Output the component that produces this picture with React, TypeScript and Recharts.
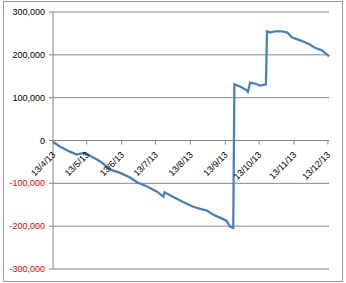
import { LineChart, Line, XAxis, YAxis, CartesianGrid } from 'recharts';

// cumulative balance
const dates = [
  '2013-04-13', '2013-04-19', '2013-04-28', '2013-05-04', '2013-05-10', '2013-05-14',
  '2013-05-25', '2013-06-03', '2013-06-11', '2013-06-20', '2013-06-27',
  '2013-07-05', '2013-07-14', '2013-07-20', '2013-07-21', '2013-07-28',
  '2013-08-06', '2013-08-15', '2013-08-21', '2013-08-28',
  '2013-09-02', '2013-09-08', '2013-09-14', '2013-09-17', '2013-09-20',
  '2013-09-21', '2013-09-26', '2013-10-02', '2013-10-03', '2013-10-05',
  '2013-10-09', '2013-10-14', '2013-10-19',
  '2013-10-20', '2013-10-23', '2013-10-27', '2013-11-02', '2013-11-07',
  '2013-11-11', '2013-11-16', '2013-11-21', '2013-11-27', '2013-12-01',
  '2013-12-08', '2013-12-13', '2013-12-14',
];

const balance = [
  -3000, -14000, -26000, -33000, -29000, -33000,
  -49000, -68000, -75000, -86000, -98000,
  -107000, -119000, -131000, -121000, -131000,
  -143000, -154000, -159000, -164000,
  -173000, -180000, -187000, -201000, -204000,
  131000, 126000, 117000, 114000, 135000,
  133000, 128000, 131000,
  255000, 252000, 255000, 255000, 252000,
  241000, 236000, 231000, 224000, 217000,
  210000, 199000, 196000,
];

const monthTicks = [
  '2013-04-13', '2013-05-13', '2013-06-13', '2013-07-13', '2013-08-13',
  '2013-09-13', '2013-10-13', '2013-11-13', '2013-12-13',
];

const yTicks = [-300000, -200000, -100000, 0, 100000, 200000, 300000];

const toTime = (s: string) => {
  const [y, m, d] = s.split('-').map(Number);
  return Date.UTC(y, m - 1, d);
};

const data = dates.map((d, i) => ({ t: toTime(d), value: balance[i] }));

const FONT = "'Liberation Sans', Arial, sans-serif";
const GRID = '#868686';
const TOP = 12;
const BOTTOM = 14;
const H = 283;
const plotH = H - TOP - BOTTOM;
// the date axis sits on the zero line, half way down the plot
const zeroShift = plotH / 2;

const fmtDate = (t: number) => {
  const d = new Date(t);
  return `${d.getUTCDate()}/${d.getUTCMonth() + 1}/${String(d.getUTCFullYear()).slice(2)}`;
};

const DateTick = (props: any) => {
  const { x, y, payload } = props;
  const y0 = y - zeroShift;
  return (
    <g>
      <line x1={x} y1={y0} x2={x} y2={y0 + 4} stroke={GRID} />
      <text
        x={x + 3}
        y={y0 + 15}
        textAnchor="end"
        fontSize={9}
        fontFamily={FONT}
        fill="#000"
        transform={`rotate(-45, ${x + 3}, ${y0 + 15})`}
      >
        {fmtDate(payload.value)}
      </text>
    </g>
  );
};

const ValueTick = (props: any) => {
  const { x, y, payload } = props;
  const v = payload.value as number;
  return (
    <text
      x={x}
      y={y}
      dy="0.35em"
      textAnchor="end"
      fontSize={9}
      fontFamily={FONT}
      fill={v < 0 ? '#e00000' : '#000'}
    >
      {v.toLocaleString('en-US')}
    </text>
  );
};

export default function App() {
  return (
    <div style={{ position: 'absolute', left: 0, top: 0, width: 346, height: 283, background: '#fff' }}>
      <div
        style={{
          position: 'absolute',
          left: 3,
          top: 1,
          width: 338,
          height: 279,
          border: '1px solid #9a9a9a',
        }}
      />
      <LineChart
        width={346}
        height={H}
        data={data}
        margin={{ top: TOP, right: 17, bottom: 0, left: 0 }}
        style={{ position: 'absolute', left: 0, top: 0 }}
      >
        <CartesianGrid vertical={false} stroke={GRID} strokeDasharray="" />
        <XAxis
          dataKey="t"
          type="number"
          scale="time"
          domain={[toTime('2013-04-13'), toTime('2013-12-14')]}
          ticks={monthTicks.map(toTime)}
          height={BOTTOM}
          tickSize={0}
          tickMargin={0}
          tickLine={false}
          axisLine={false}
          tick={<DateTick />}
          interval={0}
        />
        <YAxis
          width={53}
          domain={[-300000, 300000]}
          ticks={yTicks}
          tickSize={4}
          tickMargin={4}
          tickLine={{ stroke: GRID }}
          axisLine={{ stroke: GRID }}
          tick={<ValueTick />}
          interval={0}
        />
        <Line
          type="linear"
          dataKey="value"
          stroke="#4a7ebb"
          strokeWidth={2.25}
          dot={false}
          isAnimationActive={false}
        />
      </LineChart>
    </div>
  );
}
